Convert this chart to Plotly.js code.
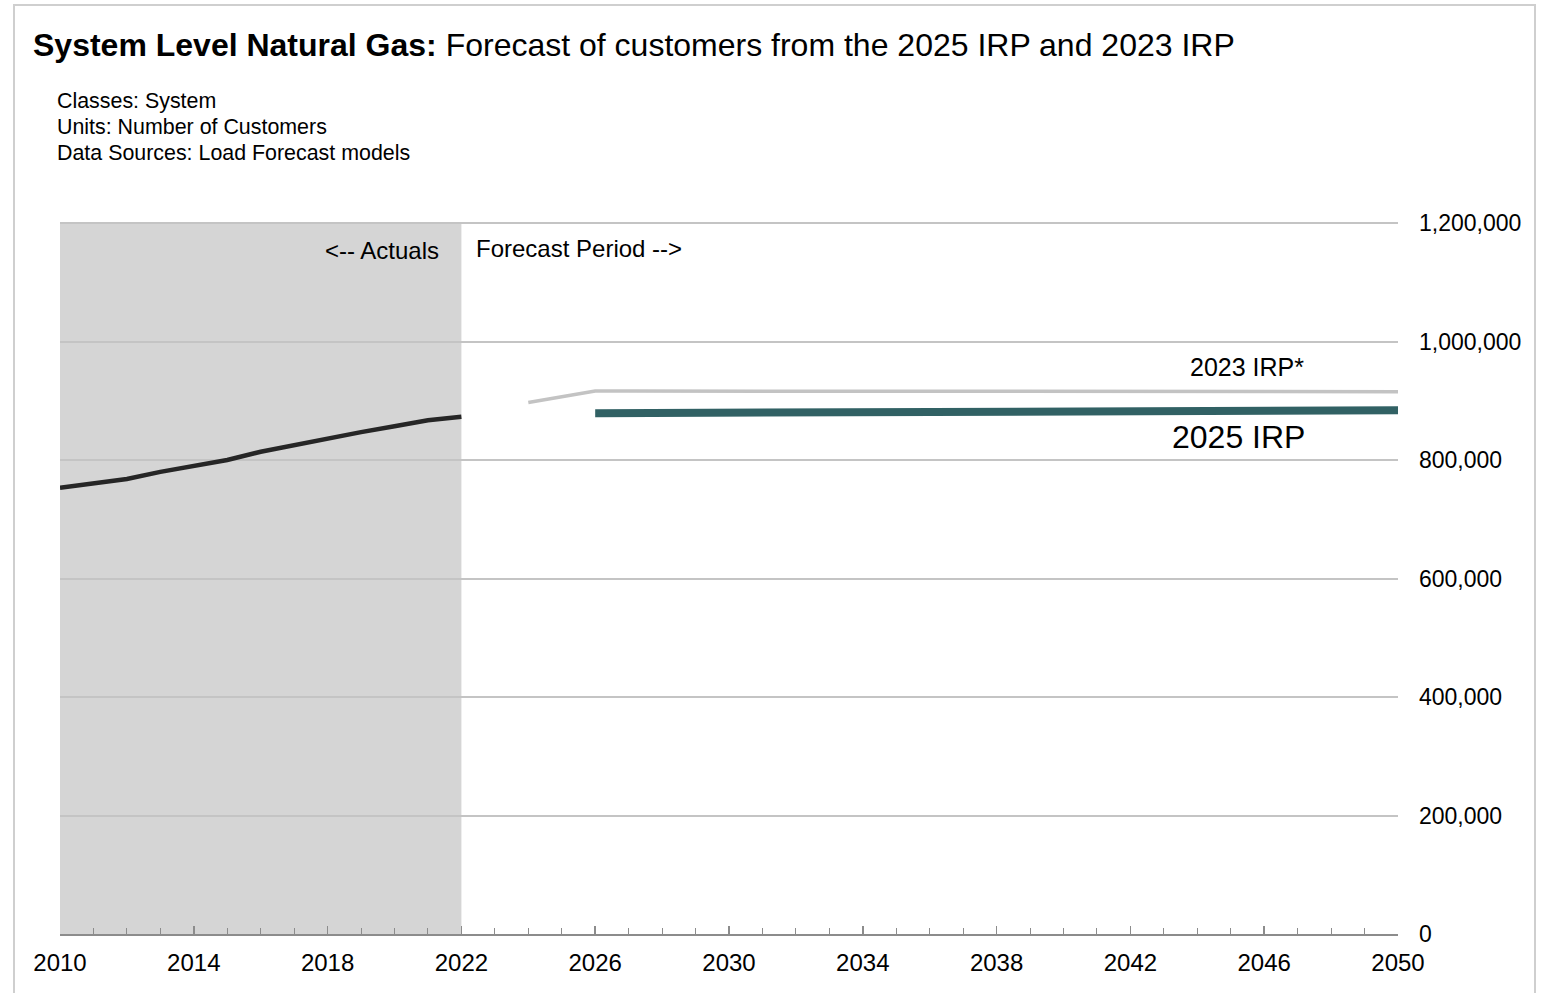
<!DOCTYPE html>
<html>
<head>
<meta charset="utf-8">
<script src="https://cdn.plot.ly/plotly-3.0.1.min.js"></script>
<style>
  html, body { margin: 0; padding: 0; background: #ffffff; }
  #frame { position: absolute; left: 13px; top: 4px; width: 1523px; height: 1000px; border: 2px solid #cfcfcf; box-sizing: border-box; }
  #chart { position: absolute; left: 0; top: 0; width: 1548px; height: 993px; }
</style>
</head>
<body>
<div id="frame"></div>
<div id="chart"></div>
<script>
// ---- Data ----
const actualYears = [2010, 2011, 2012, 2013, 2014, 2015, 2016, 2017, 2018, 2019, 2020, 2021, 2022];
const actualCustomers = [753000, 761000, 768000, 780000, 790000, 800000, 814000, 825000, 837000, 847000, 857000, 867000, 873000];

const irp2023Years = [2024, 2025, 2026, 2027, 2028, 2029, 2030, 2031, 2032, 2033, 2034, 2035, 2036, 2037, 2038,
                      2039, 2040, 2041, 2042, 2043, 2044, 2045, 2046, 2047, 2048, 2049, 2050];
const irp2023Customers = [897000, 906500, 916500, 916400, 916400, 916300, 916300, 916200, 916200, 916100, 916100, 916000, 916000, 916000, 915900,
                          915900, 915800, 915800, 915700, 915700, 915600, 915600, 915500, 915500, 915400, 915400, 915300];

const irp2025Years = [2026, 2027, 2028, 2029, 2030, 2031, 2032, 2033, 2034, 2035, 2036, 2037, 2038,
                      2039, 2040, 2041, 2042, 2043, 2044, 2045, 2046, 2047, 2048, 2049, 2050];
const irp2025Customers = [879000, 879200, 879300, 879500, 879700, 879900, 880100, 880300, 880500, 880700, 880900, 881100, 881300,
                          881500, 881700, 881900, 882100, 882300, 882500, 882800, 883000, 883300, 883500, 883800, 884000];

const xTickVals = [2010, 2014, 2018, 2022, 2026, 2030, 2034, 2038, 2042, 2046, 2050];
const xTickText = ['2010', '2014', '2018', '2022', '2026', '2030', '2034', '2038', '2042', '2046', '2050'];
const yTickVals = [0, 200000, 400000, 600000, 800000, 1000000, 1200000];

const titleBold = 'System Level Natural Gas:';
const titleRest = ' Forecast of customers from the 2025 IRP and 2023 IRP';
const infoLines = ['Classes: System', 'Units: Number of Customers', 'Data Sources: Load Forecast models'];
const actualsStart = 2010, actualsEnd = 2022;

const FONT = 'Liberation Sans, Arial, sans-serif';

const traces = [
  { x: actualYears, y: actualCustomers, type: 'scatter', mode: 'lines', name: 'Actuals',
    line: { color: '#262626', width: 4.5 }, hoverinfo: 'x+y' },
  { x: irp2023Years, y: irp2023Customers, type: 'scatter', mode: 'lines', name: '2023 IRP*',
    line: { color: '#c3c3c3', width: 3.5 }, hoverinfo: 'x+y' },
  { x: irp2025Years, y: irp2025Customers, type: 'scatter', mode: 'lines', name: '2025 IRP',
    line: { color: '#316164', width: 8 }, hoverinfo: 'x+y' }
];

const PT = 222, PB = 934, PL = 60, PR = 1398;
const PH = PB - PT, PW = PR - PL;

const annotations = [];
infoLines.forEach((t, i) => {
  annotations.push({
    text: t, xref: 'paper', yref: 'paper',
    x: (55 - PL) / PW, y: (PB - (101 + 26 * i)) / PH,
    xanchor: 'left', yanchor: 'middle', showarrow: false,
    font: { family: FONT, size: 21.4, color: '#000' }
  });
});
annotations.push(
  { text: '<-- Actuals', xref: 'x', yref: 'paper', x: actualsEnd, y: (PB - 250) / PH,
    xanchor: 'right', yanchor: 'middle', xshift: -20, showarrow: false,
    font: { family: FONT, size: 24, color: '#000' } },
  { text: 'Forecast Period -->', xref: 'x', yref: 'paper', x: actualsEnd, y: (PB - 248) / PH,
    xanchor: 'left', yanchor: 'middle', xshift: 13, showarrow: false,
    font: { family: FONT, size: 24, color: '#000' } },
  { text: '2023 IRP*', xref: 'x', yref: 'y', x: 2050, y: 957000,
    xanchor: 'right', yanchor: 'middle', xshift: -92, showarrow: false,
    font: { family: FONT, size: 25, color: '#000' } },
  { text: '2025 IRP', xref: 'x', yref: 'y', x: 2050, y: 839000,
    xanchor: 'right', yanchor: 'middle', xshift: -91, showarrow: false,
    font: { family: FONT, size: 32, color: '#000' } }
);

const layout = {
  width: 1548, height: 993,
  paper_bgcolor: 'rgba(0,0,0,0)', plot_bgcolor: 'rgba(0,0,0,0)',
  margin: { l: PL, r: 1548 - PR, t: PT, b: 993 - PB, pad: 0 },
  showlegend: false,
  font: { family: FONT, color: '#000' },
  title: {
    text: '<b>' + titleBold + '</b>' + titleRest,
    xref: 'container', yref: 'container', x: 33 / 1548, y: 1 - 45 / 993,
    xanchor: 'left', yanchor: 'middle',
    font: { family: FONT, size: 32, color: '#000' }
  },
  xaxis: {
    type: 'linear', range: [2010, 2050], fixedrange: true,
    tickmode: 'array', tickvals: xTickVals, ticktext: xTickText,
    ticks: 'inside', ticklen: 8, tickwidth: 1.5, tickcolor: '#8c8c8c',
    minor: { dtick: 1, tick0: 2010, ticks: 'inside', ticklen: 6, tickwidth: 1, tickcolor: '#8c8c8c', showgrid: false },
    showline: true, linecolor: '#8c8c8c', linewidth: 2,
    showgrid: false, zeroline: false,
    tickfont: { family: FONT, size: 24, color: '#000' },
    ticklabelstandoff: 6
  },
  yaxis: {
    range: [0, 1201700], fixedrange: true, side: 'right',
    tickmode: 'array', tickvals: yTickVals, tickformat: ',d',
    showgrid: true, gridcolor: '#c4c4c4', gridwidth: 2,
    zeroline: false, showline: false, ticks: '',
    tickfont: { family: FONT, size: 23, color: '#000' },
    ticklabelstandoff: 20
  },
  shapes: [
    { type: 'rect', xref: 'x', yref: 'paper', x0: actualsStart, x1: actualsEnd, y0: 0, y1: 1,
      fillcolor: '#d5d5d5', line: { width: 0 }, layer: 'below' }
  ],
  annotations: annotations
};

Plotly.newPlot('chart', traces, layout, { displayModeBar: false, staticPlot: true });
</script>
</body>
</html>
